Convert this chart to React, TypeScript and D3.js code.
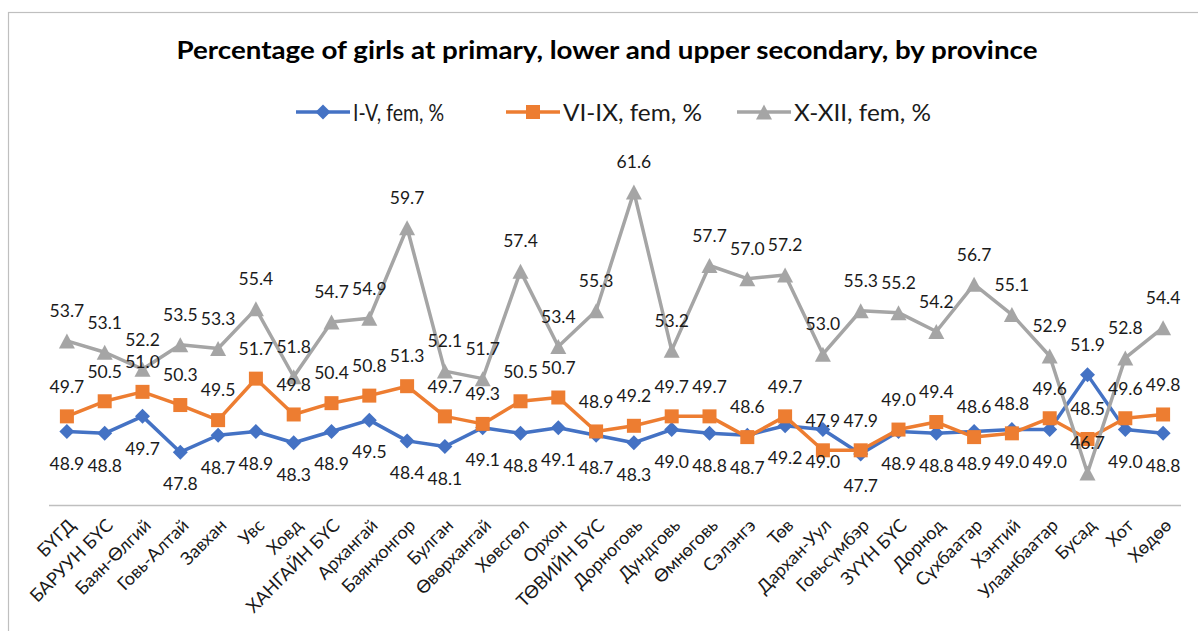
import * as d3 from "d3";

const categories = [
  "БҮГД", "БАРУУН БҮС", "Баян-Өлгий", "Говь-Алтай", "Завхан", "Увс", "Ховд",
  "ХАНГАЙН БҮС", "Архангай", "Баянхонгор", "Булган", "Өвөрхангай", "Хөвсгөл",
  "Орхон", "ТӨВИЙН БҮС", "Дорноговь", "Дундговь", "Өмнөговь", "Сэлэнгэ", "Төв",
  "Дархан-Уул", "Говьсүмбэр", "ЗҮҮН БҮС", "Дорнод", "Сүхбаатар", "Хэнтий",
  "Улаанбаатар", "Бусад", "Хот", "Хөдөө",
];

const primaryFem = [
  48.9, 48.8, 49.7, 47.8, 48.7, 48.9, 48.3, 48.9, 49.5, 48.4, 48.1, 49.1, 48.8, 49.1, 48.7,
  48.3, 49.0, 48.8, 48.7, 49.2, 49.0, 47.7, 48.9, 48.8, 48.9, 49.0, 49.0, 51.9, 49.0, 48.8,
];
const lowerFem = [
  49.7, 50.5, 51.0, 50.3, 49.5, 51.7, 49.8, 50.4, 50.8, 51.3, 49.7, 49.3, 50.5, 50.7, 48.9,
  49.2, 49.7, 49.7, 48.6, 49.7, 47.9, 47.9, 49.0, 49.4, 48.6, 48.8, 49.6, 48.5, 49.6, 49.8,
];
const upperFem = [
  53.7, 53.1, 52.2, 53.5, 53.3, 55.4, 51.8, 54.7, 54.9, 59.7, 52.1, 51.7, 57.4, 53.4, 55.3,
  61.6, 53.2, 57.7, 57.0, 57.2, 53.0, 55.3, 55.2, 54.2, 56.7, 55.1, 52.9, 46.7, 52.8, 54.4,
];

const seriesNames = ["I-V, fem, %", "VI-IX, fem, %", "X-XII, fem, %"];
const seriesColors = ["#4472C4", "#ED7D31", "#A5A5A5"];
const seriesValues = [primaryFem, lowerFem, upperFem];
// blue labels sit under the marker, except where moved by hand
const labelBelow = [true, false, false];
const labelAboveOverride = ["Бусад"];

const W = 1198;
const H = 631;
const FONT = "Lato, 'Open Sans', sans-serif";

function marker(kind: number, x: number, y: number, color: string, key: string) {
  if (kind === 0) {
    const r = 7.5;
    return <path key={key} d={`M${x},${y - r}L${x + r},${y}L${x},${y + r}L${x - r},${y}Z`} fill={color} />;
  }
  if (kind === 1) {
    const s = 14;
    return <rect key={key} x={x - s / 2} y={y - s / 2} width={s} height={s} fill={color} />;
  }
  const hw = 8, hh = 7.5;
  return <path key={key} d={`M${x},${y - hh}L${x + hw},${y + hh}L${x - hw},${y + hh}Z`} fill={color} />;
}

export default function App() {
  const x = d3.scalePoint<string>().domain(categories).range([48, 1182]).padding(0.5);
  const y = d3.scaleLinear().domain([45, 62]).range([505, 184.4]);

  const line = d3
    .line<number>()
    .x((_, i) => x(categories[i])!)
    .y((d) => y(d));

  const legendX = [296, 506, 737];
  const legendTextW = [91, 139, 137];

  return (
    <svg
      width={W}
      height={H}
      style={{ position: "absolute", left: 0, top: 0, background: "#fff" }}
      fontFamily={FONT}
    >
      <rect x={8.5} y={12.5} width={W + 20} height={H + 20} fill="#fff" stroke="#bfbfbf" strokeWidth={1.2} />

      <text
        x={607}
        y={59}
        textAnchor="middle"
        fontSize={25}
        fontWeight="bold"
        fill="#000"
        textLength={861}
        lengthAdjust="spacingAndGlyphs"
      >
        Percentage of girls at primary, lower and upper secondary, by province
      </text>

      {seriesNames.map((name, i) => (
        <g key={name}>
          <line x1={legendX[i]} x2={legendX[i] + 54} y1={112} y2={112} stroke={seriesColors[i]} strokeWidth={3.5} />
          {marker(i, legendX[i] + 27, 112, seriesColors[i], "lm" + i)}
          <text
            x={legendX[i] + 57}
            y={112}
            dy="0.36em"
            fontSize={24}
            fill="#1a1a1a"
            textLength={legendTextW[i]}
            lengthAdjust="spacingAndGlyphs"
          >
            {name}
          </text>
        </g>
      ))}

      <line x1={49} x2={1181} y1={505.5} y2={505.5} stroke="#bfbfbf" strokeWidth={1.3} />

      {seriesValues.map((vals, i) => (
        <g key={"s" + i}>
          <path d={line(vals)!} fill="none" stroke={seriesColors[i]} strokeWidth={3.5} strokeLinejoin="round" />
          {vals.map((v, j) => marker(i, x(categories[j])!, y(v), seriesColors[i], `m${i}-${j}`))}
        </g>
      ))}

      {seriesValues.map((vals, i) => (
        <g key={"l" + i}>
          {vals.map((v, j) => {
            const below = labelBelow[i] && !labelAboveOverride.includes(categories[j]);
            return (
              <text
                key={j}
                x={x(categories[j])!}
                y={y(v) + (below ? 32 : -30)}
                dy="0.36em"
                textAnchor="middle"
                fontSize={17.5}
                fill="#1a1a1a"
              >
                {v.toFixed(1)}
              </text>
            );
          })}
        </g>
      ))}

      {categories.map((c) => (
        <text
          key={c}
          transform={`translate(${x(c)! + 5},${522}) rotate(-45)`}
          textAnchor="end"
          dy="0.36em"
          fontSize={18}
          fill="#1a1a1a"
        >
          {c}
        </text>
      ))}
    </svg>
  );
}
